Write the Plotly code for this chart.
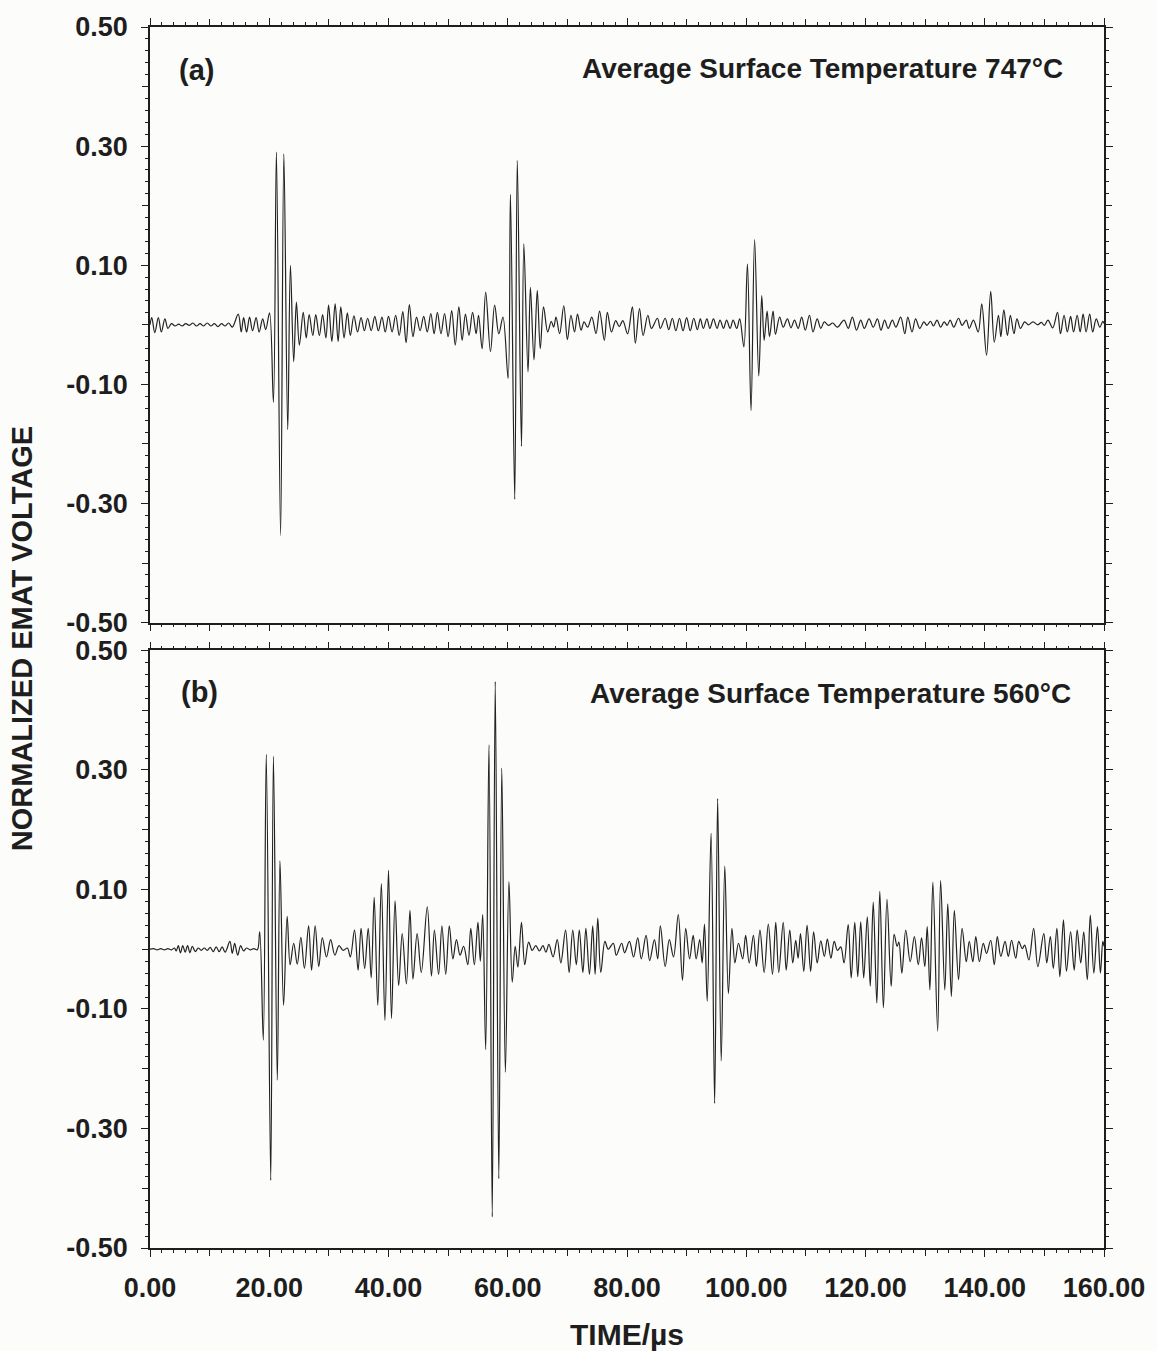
import plotly.graph_objects as go

# ---- data: extrema (time in microseconds, normalized voltage) ----
a_points = [
    (0.0,0.000),(0.3,0.012),(0.8,-0.013),(1.4,0.012),(1.9,-0.012),(2.5,0.010),(3.0,-0.006),(3.6,0.002),
    (4.2,-0.002),(4.8,0.001),(5.4,-0.002),(6.0,0.002),(6.6,-0.001),(7.2,0.003),(7.8,-0.002),(8.4,0.002),
    (9.0,-0.002),(9.6,0.003),(10.2,-0.002),(10.8,0.002),(11.4,-0.003),(12.0,0.002),(12.6,-0.002),(13.2,0.003),
    (13.8,-0.004),(14.8,0.018),(15.3,-0.012),(15.7,0.012),(16.2,-0.012),(16.7,0.013),(17.2,-0.010),(17.8,0.012),
    (18.3,-0.012),(18.9,0.010),(19.4,-0.008),
    (20.05,0.020),(20.7,-0.130),(21.2,0.290),(21.9,-0.354),(22.45,0.287),(23.1,-0.176),(23.55,0.100),(24.1,-0.062),
    (24.55,0.038),(25.05,-0.034),
    (25.7,0.021),(26.2,-0.022),(26.7,0.017),(27.3,-0.018),(27.8,0.017),(28.4,-0.018),(28.95,0.017),(29.5,-0.022),
    (29.95,0.033),(30.5,-0.028),(31.05,0.035),(31.55,-0.028),(32.0,0.030),(32.55,-0.022),(33.1,0.020),(33.6,-0.018),
    (34.2,0.015),(34.8,-0.012),(35.4,0.012),(35.95,-0.010),(36.5,0.011),(37.1,-0.010),(37.7,0.014),(38.3,-0.010),
    (38.9,0.013),(39.45,-0.012),(40.0,0.014),(40.6,-0.012),(41.2,0.016),(41.8,-0.018),(42.4,0.022),(42.95,-0.030),
    (43.5,0.034),(44.1,-0.020),(44.7,0.013),(45.3,-0.010),(45.9,0.014),(46.5,-0.012),(47.1,0.019),(47.65,-0.015),
    (48.2,0.021),(48.8,-0.015),(49.4,0.019),(50.0,-0.020),(50.6,0.024),(51.2,-0.034),(51.8,0.030),(52.35,-0.026),
    (52.9,0.018),(53.5,-0.018),
    (54.1,0.021),(54.7,-0.015),(55.1,0.016),(55.7,-0.040),(56.3,0.055),(57.1,-0.045),(57.8,0.033),(58.5,-0.015),
    (59.2,0.013),(60.06,-0.090),(60.45,0.219),(61.17,-0.293),(61.6,0.276),(62.3,-0.204),(62.7,0.136),(63.4,-0.079),
    (63.8,0.063),(64.4,-0.059),(64.95,0.058),(65.45,-0.040),(66.0,0.030),(66.7,-0.012),(67.3,0.006),(67.7,-0.004),
    (68.1,0.013),(68.7,-0.015),(69.4,0.032),(70.0,-0.025),(70.6,0.016),(71.2,-0.012),(71.7,0.018),(72.3,-0.009),
    (72.8,0.005),(73.4,-0.004),(74.1,0.013),(74.8,-0.015),(75.4,0.023),(76.2,-0.026),(76.7,0.021),(77.4,-0.012),
    (78.1,0.007),(78.7,-0.003),(79.3,0.007),(80.1,-0.015),(80.9,0.030),(81.4,-0.031),(82.1,0.027),(82.7,-0.018),
    (83.5,0.016),(84.1,-0.006),(85.1,0.011),(85.6,-0.006),(86.4,0.011),(87.0,-0.008),(87.6,0.011),(88.2,-0.010),
    (88.8,0.011),(89.4,-0.010),(90.0,0.012),(90.6,-0.010),(91.2,0.011),(91.8,-0.008),(92.3,0.010),(92.8,-0.006),
    (93.4,0.010),(93.9,-0.006),(94.5,0.010),(95.1,-0.006),(95.6,0.008),(96.2,-0.006),(96.7,0.008),(97.3,-0.006),
    (97.8,0.008),(98.4,-0.006),(98.9,0.010),
    (99.6,-0.037),(100.2,0.102),(100.8,-0.144),(101.4,0.143),(102.1,-0.086),(102.6,0.049),(103.0,-0.026),(103.5,0.023),
    (103.9,-0.020),(104.5,0.023),(104.9,-0.016),(105.6,0.013),(106.2,-0.004),(106.9,0.010),(107.5,-0.005),(108.1,0.008),
    (108.7,-0.006),(109.3,0.013),(109.9,-0.009),(110.6,0.016),(111.2,-0.012),(111.9,0.010),(112.5,-0.006),(113.1,0.005),
    (113.8,-0.001),(114.5,0.003),(115.3,-0.004),(116.4,0.008),(117.1,-0.006),(117.8,0.013),(118.5,-0.009),(119.2,0.008),
    (119.8,-0.006),(120.6,0.010),(121.3,-0.004),(122.0,0.010),(122.6,-0.009),(123.2,0.008),(123.8,-0.006),(124.5,0.008),
    (125.1,-0.004),(125.9,0.013),(126.6,-0.015),(127.1,0.013),(127.8,-0.012),(128.4,0.010),(129.1,-0.006),(129.8,0.005),
    (130.3,-0.001),(130.9,0.006),(131.4,-0.002),(132.0,0.008),(132.6,-0.004),(133.2,0.005),(133.7,-0.001),(134.2,0.008),
    (134.8,-0.004),(135.6,0.011),(136.2,-0.001),(136.9,0.008),(137.4,-0.006),(138.1,0.008),(138.9,-0.012),
    (139.5,0.035),(140.3,-0.051),(141.0,0.056),(141.6,-0.029),(142.3,0.016),(142.7,-0.020),(143.2,0.025),(143.8,-0.018),
    (144.3,0.016),(144.9,-0.015),(145.4,0.010),(146.0,-0.006),(146.7,0.005),(147.3,0.000),(148.1,0.005),(148.9,0.000),
    (149.5,0.004),(150.0,-0.001),(150.6,0.008),(151.4,-0.005),(152.2,0.021),(152.7,-0.015),(153.3,0.016),(153.85,-0.012),
    (154.4,0.014),(154.9,-0.012),(155.5,0.016),(156.0,-0.012),(156.5,0.018),(157.0,-0.012),(157.6,0.018),(158.1,-0.012),
    (158.7,0.010),(159.3,-0.004),(159.8,0.006),(160.0,0.002),
]

b_points = [
    (0.0,0.000),(0.6,0.001),(1.2,-0.001),(1.8,0.001),(2.4,-0.001),(3.0,0.001),(3.6,-0.001),(4.1,0.002),
    (4.4,-0.003),(4.75,0.006),(5.1,-0.006),(5.5,0.006),(5.9,-0.005),(6.3,0.006),(6.7,-0.006),(7.1,0.005),
    (7.6,-0.004),(8.1,0.002),(8.6,-0.002),(9.1,0.002),(9.6,-0.002),(10.1,0.003),(10.6,-0.004),(11.1,0.004),
    (11.6,-0.004),(12.1,0.004),(12.6,-0.005),(13.4,0.013),(13.8,-0.007),(14.2,0.010),(14.7,-0.010),(15.2,0.006),
    (15.7,-0.003),(16.2,0.002),(16.8,-0.001),(17.4,0.001),(18.0,-0.001),
    (18.4,0.029),(19.0,-0.152),(19.5,0.326),(20.25,-0.387),(20.7,0.323),(21.35,-0.219),(21.8,0.148),(22.4,-0.094),
    (23.0,0.055),(23.5,-0.026),(24.1,0.010),(24.7,-0.025),(25.3,0.020),(25.9,-0.032),(26.6,0.039),(27.1,-0.035),
    (27.7,0.039),(28.3,-0.029),(28.9,0.019),(29.6,-0.013),(30.3,0.016),(31.0,-0.010),(31.7,0.006),(32.4,-0.002),
    (33.1,0.002),(33.6,-0.013),(34.3,0.032),(34.9,-0.035),(35.4,0.035),(36.0,-0.032),(36.6,0.035),(37.1,-0.048),
    (37.6,0.087),(38.2,-0.094),(38.8,0.110),(39.4,-0.119),(40.0,0.132),(40.5,-0.116),(41.1,0.081),(41.7,-0.061),
    (42.3,0.026),(43.0,-0.058),(43.6,0.065),(44.1,-0.050),(44.8,0.026),(45.5,-0.039),(46.5,0.071),(47.2,-0.045),
    (47.7,0.032),(48.4,-0.042),(48.96,0.039),(49.6,-0.042),(50.2,0.039),(50.8,-0.016),(51.4,0.016),(52.0,-0.010),
    (52.6,0.005),(53.3,-0.026),(53.8,0.035),(54.4,-0.026),(55.0,0.045),(55.4,-0.020),(55.8,0.058),
    (56.3,-0.168),(56.85,0.342),(57.4,-0.448),(57.9,0.448),(58.5,-0.384),(59.0,0.303),(59.6,-0.206),(60.2,0.113),
    (60.75,-0.055),(61.25,0.005),(61.7,-0.030),(62.3,0.045),(62.85,-0.026),(63.5,0.012),(64.1,-0.002),(64.7,0.006),
    (65.3,-0.003),(65.9,0.006),(66.4,-0.005),(66.9,0.008),(67.6,-0.013),(68.3,0.016),(68.9,-0.023),(69.7,0.032),
    (70.3,-0.039),(70.9,0.032),(71.5,-0.026),(72.0,0.032),(72.6,-0.039),(73.1,0.035),(73.7,-0.042),(74.25,0.039),
    (74.65,-0.042),(75.1,0.052),(75.6,-0.039),(76.3,0.013),(76.85,0.000),(77.7,0.010),(78.2,-0.010),(79.1,0.010),
    (79.6,-0.006),(80.4,0.013),(81.1,-0.013),(81.8,0.019),(82.4,-0.016),(83.2,0.023),(83.8,-0.019),(84.6,0.016),
    (85.15,-0.016),(85.6,0.039),(86.4,-0.029),(87.1,0.016),(87.8,-0.013),(88.6,0.058),(89.3,-0.052),(89.85,0.035),
    (90.5,-0.016),(91.1,0.023),(91.6,-0.016),(92.2,0.016),(92.6,-0.023),(93.0,0.042),
    (93.45,-0.087),(94.1,0.194),(94.7,-0.258),(95.2,0.252),(95.8,-0.187),(96.4,0.139),(97.0,-0.074),(97.6,0.035),
    (98.1,-0.023),(98.7,0.010),(99.4,-0.016),(99.9,0.023),(100.5,-0.023),(101.2,0.023),(101.7,-0.029),(102.3,0.032),
    (103.0,-0.039),(103.7,0.042),(104.4,-0.042),(104.95,0.045),(105.45,-0.039),(106.2,0.045),(106.7,-0.035),(107.3,0.032),
    (107.8,-0.023),(108.3,0.015),(108.7,-0.015),(109.1,0.026),(109.65,-0.037),(110.2,0.040),(110.8,-0.037),(111.3,0.029),
    (111.9,-0.023),(112.5,0.014),(113.1,-0.012),(113.6,0.017),(114.2,-0.015),(114.75,0.013),(115.3,-0.002),(115.85,0.004),
    (116.4,-0.023),(117.1,0.041),(117.6,-0.048),(118.2,0.045),(118.7,-0.046),(119.2,0.046),(119.7,-0.048),(120.3,0.054),
    (120.8,-0.062),(121.3,0.079),(121.9,-0.090),(122.4,0.097),(123.0,-0.098),(123.6,0.084),(124.3,-0.062),(124.8,0.025),
    (125.3,0.005),(125.6,0.012),(126.1,-0.040),(126.75,0.032),(127.5,-0.021),(128.2,0.021),(128.85,-0.026),(129.4,0.019),
    (129.95,-0.029),(130.35,0.038),(130.8,-0.068),(131.3,0.112),(132.1,-0.137),(132.6,0.115),(133.3,-0.068),(133.8,0.076),
    (134.4,-0.079),(134.9,0.065),(135.6,-0.051),(136.2,0.035),(136.9,-0.021),(137.4,0.013),(138.0,-0.021),(138.5,0.021),
    (139.1,-0.021),(139.75,0.010),(140.3,-0.007),(141.0,0.015),(141.6,-0.026),(142.1,0.021),(142.7,-0.012),(143.4,0.013),
    (143.95,-0.012),(144.5,0.015),(145.2,-0.015),(145.7,0.013),(146.3,0.001),(146.7,0.007),(147.4,-0.018),(148.2,0.035),
    (148.9,-0.029),(149.9,0.026),(150.4,-0.023),(151.0,0.021),(151.5,-0.032),(152.1,0.035),(152.6,-0.046),(153.2,0.049),
    (153.7,-0.037),(154.4,0.029),(155.0,-0.035),(155.5,0.032),(156.1,-0.023),(156.6,0.029),(157.2,-0.051),(157.7,0.057),
    (158.3,-0.040),(158.9,0.038),(159.4,-0.040),(159.8,0.013),(160.0,0.005),
]

a_time = [p[0] for p in a_points]
a_volt = [p[1] for p in a_points]
b_time = [p[0] for p in b_points]
b_volt = [p[1] for p in b_points]

x_label_vals = [0, 20, 40, 60, 80, 100, 120, 140, 160]
x_label_text = ["0.00", "20.00", "40.00", "60.00", "80.00", "100.00", "120.00", "140.00", "160.00"]
x_mid_vals = [10, 30, 50, 70, 90, 110, 130, 150]
y_label_vals = [-0.5, -0.3, -0.1, 0.1, 0.3, 0.5]
y_label_text = ["-0.50", "-0.30", "-0.10", "0.10", "0.30", "0.50"]
y_mid_vals = [-0.4, -0.2, 0.0, 0.2, 0.4]

panel_labels = ["(a)", "(b)"]
panel_titles = ["Average Surface Temperature 747°C",
                "Average Surface Temperature 560°C"]

FONT = "Liberation Sans, Arial, Helvetica, sans-serif"
INK = "#1e1e1e"
BG = "#fcfcfa"

fig = go.Figure()
fig.add_trace(go.Scatter(x=a_time, y=a_volt, mode="lines", xaxis="x", yaxis="y",
                         line=dict(color="#222222", width=1.2, shape="spline", smoothing=1.0),
                         showlegend=False))
fig.add_trace(go.Scatter(x=b_time, y=b_volt, mode="lines", xaxis="x2", yaxis="y2",
                         line=dict(color="#222222", width=1.2, shape="spline", smoothing=1.0),
                         showlegend=False))

tickfont = dict(family=FONT, size=27, color=INK, weight="bold")
minor_x = dict(tickmode="linear", tick0=0, dtick=2, ticks="outside", ticklen=3, tickcolor=INK, tickwidth=1)
minor_y = dict(tickmode="linear", tick0=0, dtick=0.02, ticks="outside", ticklen=3, tickcolor=INK, tickwidth=1)

def xax(show_labels, anchor):
    return dict(range=[0, 160], anchor=anchor, showline=True, linecolor=INK, linewidth=1.5,
                mirror="ticks", ticks="outside", ticklen=7, tickwidth=1.3, tickcolor=INK,
                tickmode="array", tickvals=x_label_vals, ticktext=x_label_text,
                showticklabels=show_labels, tickfont=tickfont, ticklabelstandoff=8,
                showgrid=False, zeroline=False, minor=minor_x)

def xax_mid(anchor, overlay):
    # unlabeled major ticks at the odd tens
    return dict(range=[0, 160], anchor=anchor, overlaying=overlay, showline=False,
                mirror="ticks", ticks="outside", ticklen=7, tickwidth=1.3, tickcolor=INK,
                tickmode="array", tickvals=x_mid_vals, showticklabels=False,
                showgrid=False, zeroline=False)

def yax(domain, anchor):
    return dict(range=[-0.5, 0.5], domain=domain, anchor=anchor, showline=True, linecolor=INK,
                linewidth=1.5, mirror="ticks", ticks="outside", ticklen=7, tickwidth=1.3,
                tickcolor=INK, tickmode="array", tickvals=y_label_vals, ticktext=y_label_text,
                tickfont=tickfont, ticklabelstandoff=8, showgrid=False, zeroline=False,
                minor=minor_y)

def yax_mid(anchor, overlay, domain):
    return dict(range=[-0.5, 0.5], domain=domain, anchor=anchor, overlaying=overlay, showline=False,
                mirror="ticks", ticks="outside", ticklen=7, tickwidth=1.3, tickcolor=INK,
                tickmode="array", tickvals=y_mid_vals, showticklabels=False,
                showgrid=False, zeroline=False)

# invisible helper traces so the overlay axes are drawn
for xa, ya in [("x3", "y"), ("x4", "y2"), ("x", "y3"), ("x2", "y4")]:
    fig.add_trace(go.Scatter(x=[0, 160], y=[0, 0], xaxis=xa, yaxis=ya, mode="lines",
                             line=dict(width=0), hoverinfo="skip", showlegend=False))

lab_font = dict(family=FONT, size=29, color=INK, weight="bold")
title_font = dict(family=FONT, size=28, color=INK, weight="bold")
annots = [
    dict(x=7.8, y=0.427, xref="x", yref="y", text=panel_labels[0], showarrow=False,
         xanchor="center", yanchor="middle", font=lab_font),
    dict(x=8.3, y=0.431, xref="x2", yref="y2", text=panel_labels[1], showarrow=False,
         xanchor="center", yanchor="middle", font=lab_font),
    dict(x=153.4, y=0.430, xref="x", yref="y", text=panel_titles[0], showarrow=False,
         xanchor="right", yanchor="middle", font=title_font),
    dict(x=154.8, y=0.428, xref="x2", yref="y2", text=panel_titles[1], showarrow=False,
         xanchor="right", yanchor="middle", font=title_font),
    dict(x=-0.1347, y=0.499, xref="paper", yref="paper", text="NORMALIZED EMAT VOLTAGE",
         textangle=-90, showarrow=False, xanchor="center", yanchor="middle",
         font=dict(family=FONT, size=29, color=INK, weight="bold")),
    dict(x=0.5, y=-0.0708, xref="paper", yref="paper", text="TIME/µs", showarrow=False,
         xanchor="center", yanchor="middle", font=dict(family=FONT, size=30, color=INK, weight="bold")),
]

fig.update_layout(
    width=1157, height=1351,
    margin=dict(l=150, r=42, t=20, b=103),
    paper_bgcolor=BG, plot_bgcolor=BG,
    xaxis=xax(False, "y"),
    yaxis=yax([0.5122, 1.0], "x"),
    xaxis2=xax(True, "y2"),
    yaxis2=yax([0.0, 0.4894], "x2"),
    xaxis3=xax_mid("y", "x"),
    xaxis4=xax_mid("y2", "x2"),
    yaxis3=yax_mid("x", "y", [0.5122, 1.0]),
    yaxis4=yax_mid("x2", "y2", [0.0, 0.4894]),
    annotations=annots,
    showlegend=False,
)

fig.write_html("out.html")
